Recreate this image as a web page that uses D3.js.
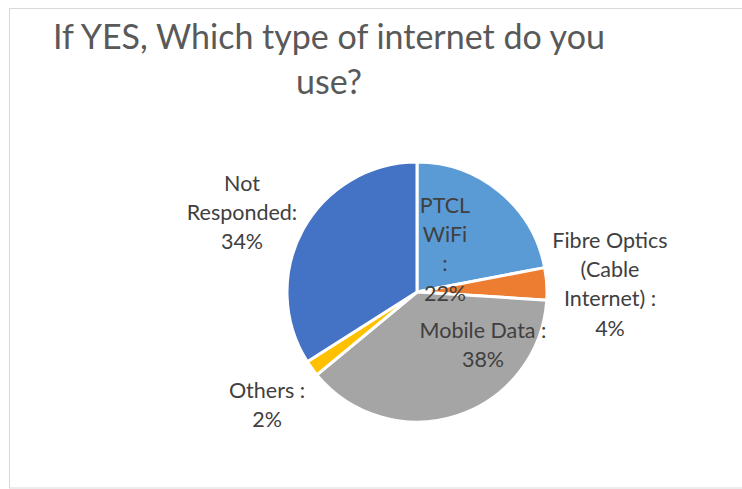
<!DOCTYPE html>
<html>
<head>
<meta charset="utf-8">
<script src="https://cdn.jsdelivr.net/npm/d3@7"></script>
<style>
  html, body { margin: 0; padding: 0; background: #fff; }
  svg { display: block; }
</style>
</head>
<body>
<svg id="chart" width="742" height="489"></svg>
<script>
// Survey answers: internet type used
const categories = ["PTCL WiFi", "Fibre Optics (Cable Internet)", "Mobile Data", "Others", "Not Responded"];
const values = [22, 4, 38, 2, 34];
const colors = ["#5b9bd5", "#ed7d31", "#a5a5a5", "#ffc000", "#4472c4"];
// Wrapped label text (the value line is appended from `values`)
const labelLines = [
  ["PTCL", "WiFi", ":"],
  ["Fibre Optics", "(Cable", "Internet) :"],
  ["Mobile Data :"],
  ["Others :"],
  ["Not", "Responded:"]
];
const titleLines = ["If YES, Which type of internet do you", "use?"];

// Layout
const W = 742, H = 489;
const cx = 417, cy = 292, R = 130;
// label block centers, relative to the pie center (first-line baseline)
const labelAnchor = [
  [28, -79], [193, -44], [66, 46], [-150, 106], [-175, -101]
];
const lineH = 29.2;

const svg = d3.select("#chart");

// chart frame
svg.append("rect")
  .attr("x", 9.5).attr("y", 8.5)
  .attr("width", 760).attr("height", 479.5)
  .attr("fill", "#fff")
  .attr("stroke", "#d9d9d9").attr("stroke-width", 1);

// title
svg.append("g").selectAll("text")
  .data(titleLines)
  .join("text")
  .attr("x", 329)
  .attr("y", (d, i) => 49 + i * 45)
  .attr("text-anchor", "middle")
  .attr("font-family", "Lato, 'Open Sans', sans-serif")
  .attr("font-size", 34)
  .attr("fill", "#595959")
  .text(d => d);

// pie
const pie = d3.pie().sort(null).value(d => d);
const arc = d3.arc().innerRadius(0).outerRadius(R);
const arcs = pie(values);

const g = svg.append("g").attr("transform", `translate(${cx},${cy})`);
g.selectAll("path")
  .data(arcs)
  .join("path")
  .attr("d", arc)
  .attr("fill", (d, i) => colors[i])
  .attr("stroke", "#fff")
  .attr("stroke-width", 3)
  .attr("stroke-linejoin", "round");

// data labels
const lg = g.append("g")
  .attr("font-family", "Lato, 'Open Sans', sans-serif")
  .attr("font-size", 21.5)
  .attr("fill", "#404040")
  .attr("text-anchor", "middle");

arcs.forEach((a, i) => {
  const lines = labelLines[i].concat([values[i] + "%"]);
  const [ax, ay] = labelAnchor[i];
  lg.append("text")
    .selectAll("tspan")
    .data(lines)
    .join("tspan")
    .attr("x", ax)
    .attr("y", (d, j) => ay + j * lineH)
    .text(d => d);
});
</script>
</body>
</html>
